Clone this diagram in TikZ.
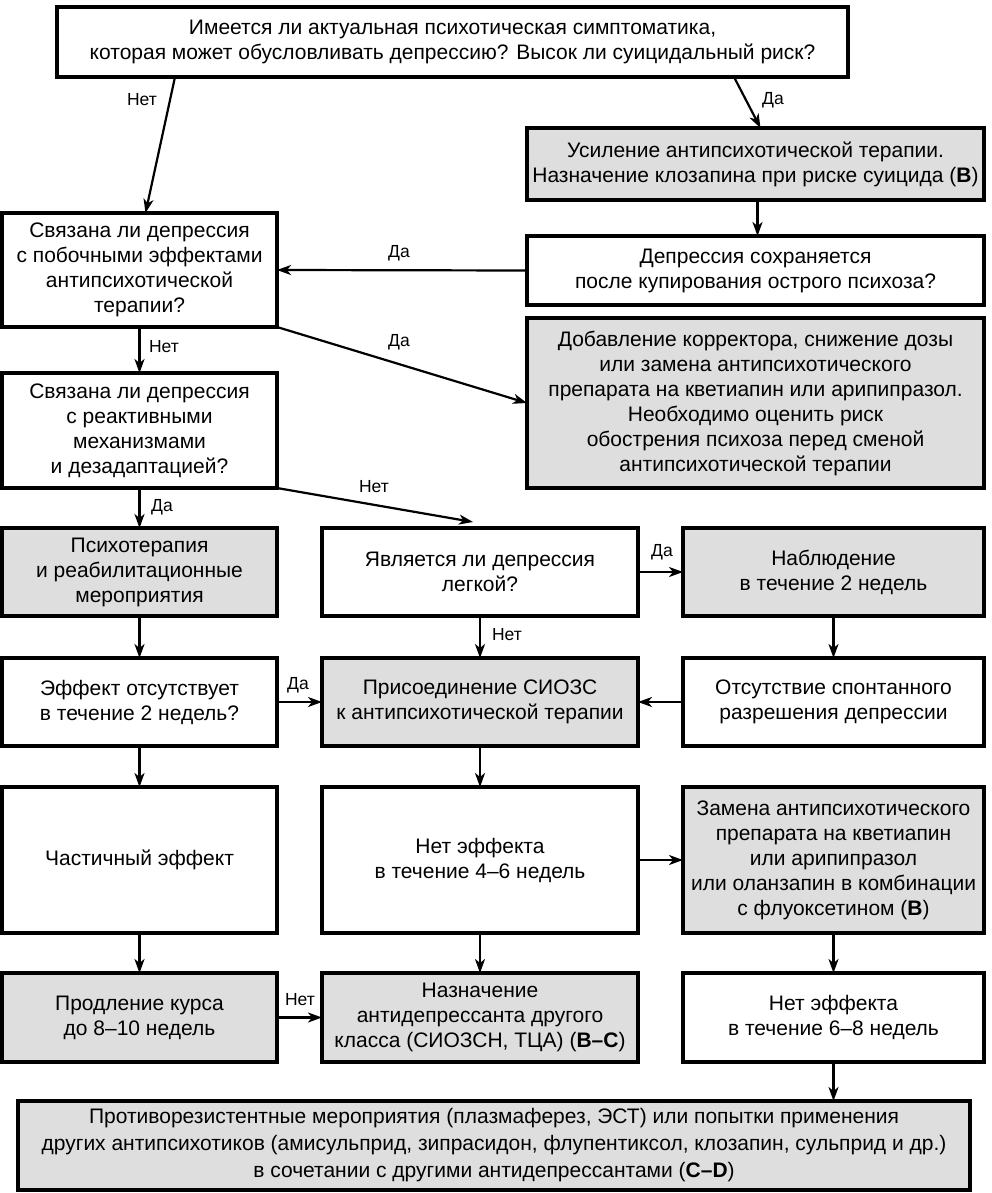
\documentclass[tikz,border=0pt]{standalone}
\usepackage{fontspec}
\setmainfont{Liberation Sans}
\usetikzlibrary{arrows.meta,calc}
\definecolor{boxgray}{HTML}{DEDEDE}
\tikzset{
  box/.style={draw=black, line width=3.4pt, fill=white, inner sep=0pt, outer sep=0pt,
    align=center, font=\fontsize{21}{25}\selectfont, anchor=center},
  gbox/.style={box, fill=boxgray},
  arr/.style={line width=2.2pt, -{Stealth[length=14pt,width=10pt,inset=4pt]}},
  lbl/.style={font=\fontsize{17.5}{20}\selectfont, inner sep=0pt},
}
\begin{document}
\begin{tikzpicture}[x=1pt,y=-1pt]
\useasboundingbox (0,0) rectangle (992,1193);
% boxes
\node[box, minimum width=791, minimum height=70] (top) at (452.5,42)
  {Имеется ли актуальная психотическая симптоматика,\\ которая может обусловливать депрессию? Высок ли суицидальный риск?};
\node[gbox, minimum width=457, minimum height=72] (B) at (755.5,164)
  {Усиление антипсихотической терапии.\\ Назначение клозапина при риске суицида (\textbf{B})};
\node[box, minimum width=275, minimum height=114] (L1) at (139.5,270)
  {Связана ли депрессия\\ с побочными эффектами\\ антипсихотической\\ терапии?};
\node[box, minimum width=457, minimum height=69] (Dep) at (755.5,270.5)
  {Депрессия сохраняется\\ после купирования острого психоза?};
\node[gbox, minimum width=457, minimum height=170] (G1) at (755.5,403)
  {Добавление корректора, снижение дозы\\ или замена антипсихотического\\ препарата на кветиапин или арипипразол.\\ Необходимо оценить риск\\ обострения психоза перед сменой\\ антипсихотической терапии};
\node[box, minimum width=275, minimum height=115] (L2) at (139.5,430.5)
  {Связана ли депрессия\\ с реактивными\\ механизмами\\ и дезадаптацией?};
\node[gbox, minimum width=275, minimum height=88] (Psy) at (139.5,572)
  {Психотерапия\\ и реабилитационные\\ мероприятия};
\node[box, minimum width=316, minimum height=88] (Yav) at (480,572)
  {Является ли депрессия\\ легкой?};
\node[gbox, minimum width=301, minimum height=88] (Nabl) at (833.5,572)
  {Наблюдение\\ в течение 2 недель};
\node[box, minimum width=275, minimum height=88] (Eff) at (139.5,702)
  {Эффект отсутствует\\ в течение 2 недель?};
\node[gbox, minimum width=316, minimum height=88] (SIOZS) at (480,702)
  {Присоединение СИОЗС\\ к антипсихотической терапии};
\node[box, minimum width=301, minimum height=88] (Ots) at (833.5,702)
  {Отсутствие спонтанного\\ разрешения депрессии};
\node[box, minimum width=275, minimum height=146] (Chast) at (139.5,860)
  {Частичный эффект};
\node[box, minimum width=316, minimum height=146] (N46) at (480,860)
  {Нет эффекта\\ в течение 4–6 недель};
\node[gbox, minimum width=301, minimum height=146] (Zam) at (833.5,860)
  {Замена антипсихотического\\ препарата на кветиапин\\ или арипипразол\\ или оланзапин в комбинации\\ с флуоксетином (\textbf{B})};
\node[gbox, minimum width=275, minimum height=89] (Prod) at (139.5,1017.5)
  {Продление курса\\ до 8–10 недель};
\node[gbox, minimum width=316, minimum height=89] (Naz) at (480,1017.5)
  {Назначение\\ антидепрессанта другого\\ класса (СИОЗСН, ТЦА) (\textbf{B–C})};
\node[box, minimum width=301, minimum height=89] (N68) at (833.5,1017.5)
  {Нет эффекта\\ в течение 6–8 недель};
\node[gbox, minimum width=952, minimum height=89, font=\fontsize{21}{27}\selectfont] (Bot) at (494,1145.5)
  {Противорезистентные мероприятия (плазмаферез, ЭСТ) или попытки применения\\ других антипсихотиков (амисульприд, зипрасидон, флупентиксол, клозапин, сульприд и др.)\\ в сочетании с другими антидепрессантами (\textbf{C–D})};
% connectors
\draw[arr] ($(top.south west)+(118,0)$) -- ($(L1.north)+(6,0)$);
\node[lbl] at (142,100) {Нет};
\draw[arr] ($(top.south east)+(-114,0)$) -- ($(B.north)+(5,0)$);
\node[lbl] at (773,100) {Да};
\draw[arr] ($(B.south)+(2,0)$) -- ($(Dep.north)+(2,0)$);
\draw[arr] (Dep.west) -- (L1.east);
\node[lbl] at (399,253) {Да};
\draw[arr] (L1.south east) -- (G1.west);
\node[lbl] at (399,342) {Да};
\draw[arr] (L1.south) -- (L2.north);
\node[lbl] at (164,347) {Нет};
\draw[arr] (L2.south east) -- ($(Yav.north)+(-7,-6)$);
\node[lbl] at (374,487) {Нет};
\draw[arr] (L2.south) -- (Psy.north);
\node[lbl] at (162,507) {Да};
\draw[arr] (Yav.east) -- (Nabl.west);
\node[lbl] at (662,552) {Да};
\draw[arr] (Yav.south) -- (SIOZS.north);
\node[lbl] at (507,635) {Нет};
\draw[arr] (Psy.south) -- (Eff.north);
\draw[arr] (Nabl.south) -- (Ots.north);
\draw[arr] (Eff.east) -- (SIOZS.west);
\node[lbl] at (298,685) {Да};
\draw[arr] (Ots.west) -- (SIOZS.east);
\draw[arr] (Eff.south) -- (Chast.north);
\draw[arr] (SIOZS.south) -- (N46.north);
\draw[arr] (N46.east) -- (Zam.west);
\draw[arr] (Chast.south) -- (Prod.north);
\draw[arr] (N46.south) -- (Naz.north);
\draw[arr] (Zam.south) -- (N68.north);
\draw[arr] (Prod.east) -- (Naz.west);
\node[lbl] at (300,1000) {Нет};
\draw[arr] (N68.south) -- (N68.south |- Bot.north);
\end{tikzpicture}
\end{document}
